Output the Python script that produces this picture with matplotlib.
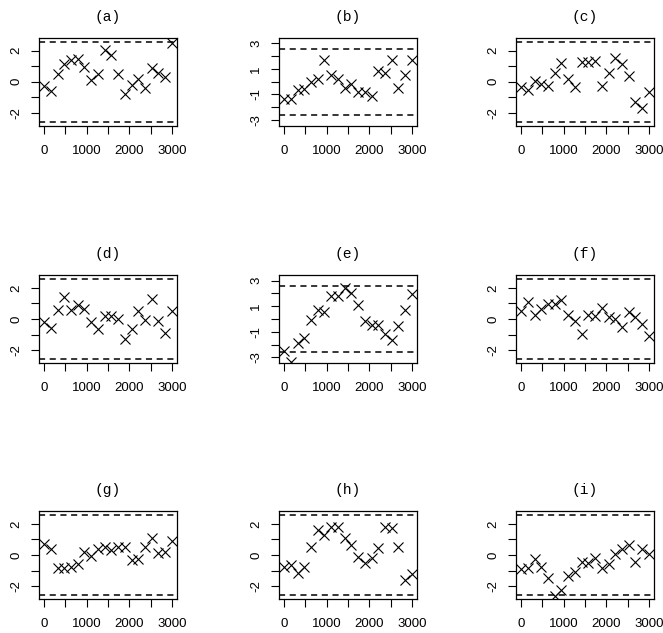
import matplotlib
matplotlib.use("Agg")
import matplotlib.pyplot as plt

# sample times (20 samples over 0..3000)
x_time = [0, 158, 316, 474, 632, 789, 947, 1105, 1263, 1421,
          1579, 1737, 1895, 2053, 2211, 2368, 2526, 2684, 2842, 3000]

panel_a = [-0.28, -0.58, 0.49, 1.14, 1.40, 1.46, 0.97, 0.11, 0.49, 2.04,
           1.72, 0.47, -0.82, -0.22, 0.15, -0.43, 0.86, 0.58, 0.30, 2.47]
panel_b = [-1.36, -1.38, -0.68, -0.60, -0.03, 0.23, 1.67, 0.50, 0.21, -0.47,
           -0.16, -0.78, -0.78, -1.10, 0.84, 0.65, 1.67, -0.52, 0.50, 1.67]
panel_c = [-0.37, -0.54, 0.04, -0.15, -0.28, 0.58, 1.23, 0.17, -0.37, 1.29,
           1.25, 1.35, -0.28, 0.54, 1.50, 1.14, 0.39, -1.31, -1.68, -0.69]
panel_d = [-0.22, -0.58, 0.60, 1.40, 0.60, 0.93, 0.65, -0.22, -0.65, 0.17,
           0.17, 0.00, -1.27, -0.63, 0.50, -0.09, 1.30, -0.15, -0.91, 0.50]
panel_e = [-2.49, -3.38, -1.85, -1.46, -0.07, 0.74, 0.51, 1.82, 1.82, 2.46,
           2.04, 1.13, -0.13, -0.46, -0.46, -1.15, -1.65, -0.54, 0.74, 1.99]
panel_f = [0.50, 1.08, 0.28, 0.65, 0.97, 0.97, 1.25, 0.28, -0.11, -0.97,
           0.28, 0.22, 0.71, 0.11, 0.02, -0.54, 0.43, 0.13, -0.30, -1.12]
panel_g = [0.73, 0.41, -0.82, -0.82, -0.76, -0.60, 0.19, -0.06, 0.37, 0.52,
           0.30, 0.54, 0.54, -0.32, -0.28, 0.54, 1.08, 0.15, 0.19, 0.91]
panel_h = [-0.78, -0.65, -1.14, -0.78, 0.54, 1.60, 1.27, 1.81, 1.77, 1.12,
           0.65, -0.13, -0.50, -0.17, 0.48, 1.77, 1.71, 0.52, -1.64, -1.25]
panel_i = [-0.93, -0.82, -0.28, -0.76, -1.47, -2.66, -2.22, -1.36, -1.08, -0.45,
           -0.50, -0.17, -0.82, -0.60, 0.09, 0.37, 0.65, -0.43, 0.37, 0.09]

titles = ["(a)", "(b)", "(c)", "(d)", "(e)", "(f)", "(g)", "(h)", "(i)"]
panels = [panel_a, panel_b, panel_c, panel_d, panel_e, panel_f, panel_g, panel_h, panel_i]
bound = 2.58  # dashed limits

W, H = 663, 633
col_left = [39, 279, 516]
row_top = [37.7, 275, 511]
box_w, box_h = 138, 88

fig = plt.figure(figsize=(W / 100, H / 100), dpi=100)

for k, (vals, title) in enumerate(zip(panels, titles)):
    r, c = divmod(k, 3)
    ax = fig.add_axes([col_left[c] / W, 1 - (row_top[r] + box_h) / H, box_w / W, box_h / H])
    ax.plot(x_time, vals, linestyle="none", marker="x", color="black", ms=6.5, mew=0.8)
    ax.axhline(bound, color="black", lw=1.1, linestyle=(0, (4, 3)))
    ax.axhline(-bound, color="black", lw=1.1, linestyle=(0, (4, 3)))

    ax.set_xlim(-120, 3120)
    ax.set_xticks(range(0, 3001, 500))
    ax.set_xticklabels(["0", "", "1000", "", "2000", "", "3000"])

    if title in ("(b)", "(e)"):
        ax.set_ylim(-3.45, 3.45)
        ax.set_yticks(range(-3, 4))
        ax.set_yticklabels(["-3", "", "-1", "", "1", "", "3"])
    else:
        ax.set_ylim(-2.83, 2.83)
        ax.set_yticks(range(-2, 3))
        ax.set_yticklabels(["-2", "", "0", "", "2"])

    ax.tick_params(length=6, width=0.8, colors="black", labelsize=9.5)
    ax.tick_params(axis="x", pad=8)
    ax.tick_params(axis="y", pad=6)
    for lab in ax.get_xticklabels() + ax.get_yticklabels():
        lab.set_family("Liberation Sans")
    for lab in ax.get_yticklabels():
        lab.set_rotation(90)
        lab.set_va("center")
    for sp in ax.spines.values():
        sp.set_linewidth(0.9)
    ax.set_title(title, family="Liberation Mono", fontsize=10.5, pad=12)

fig.savefig("out.png", dpi=100)
